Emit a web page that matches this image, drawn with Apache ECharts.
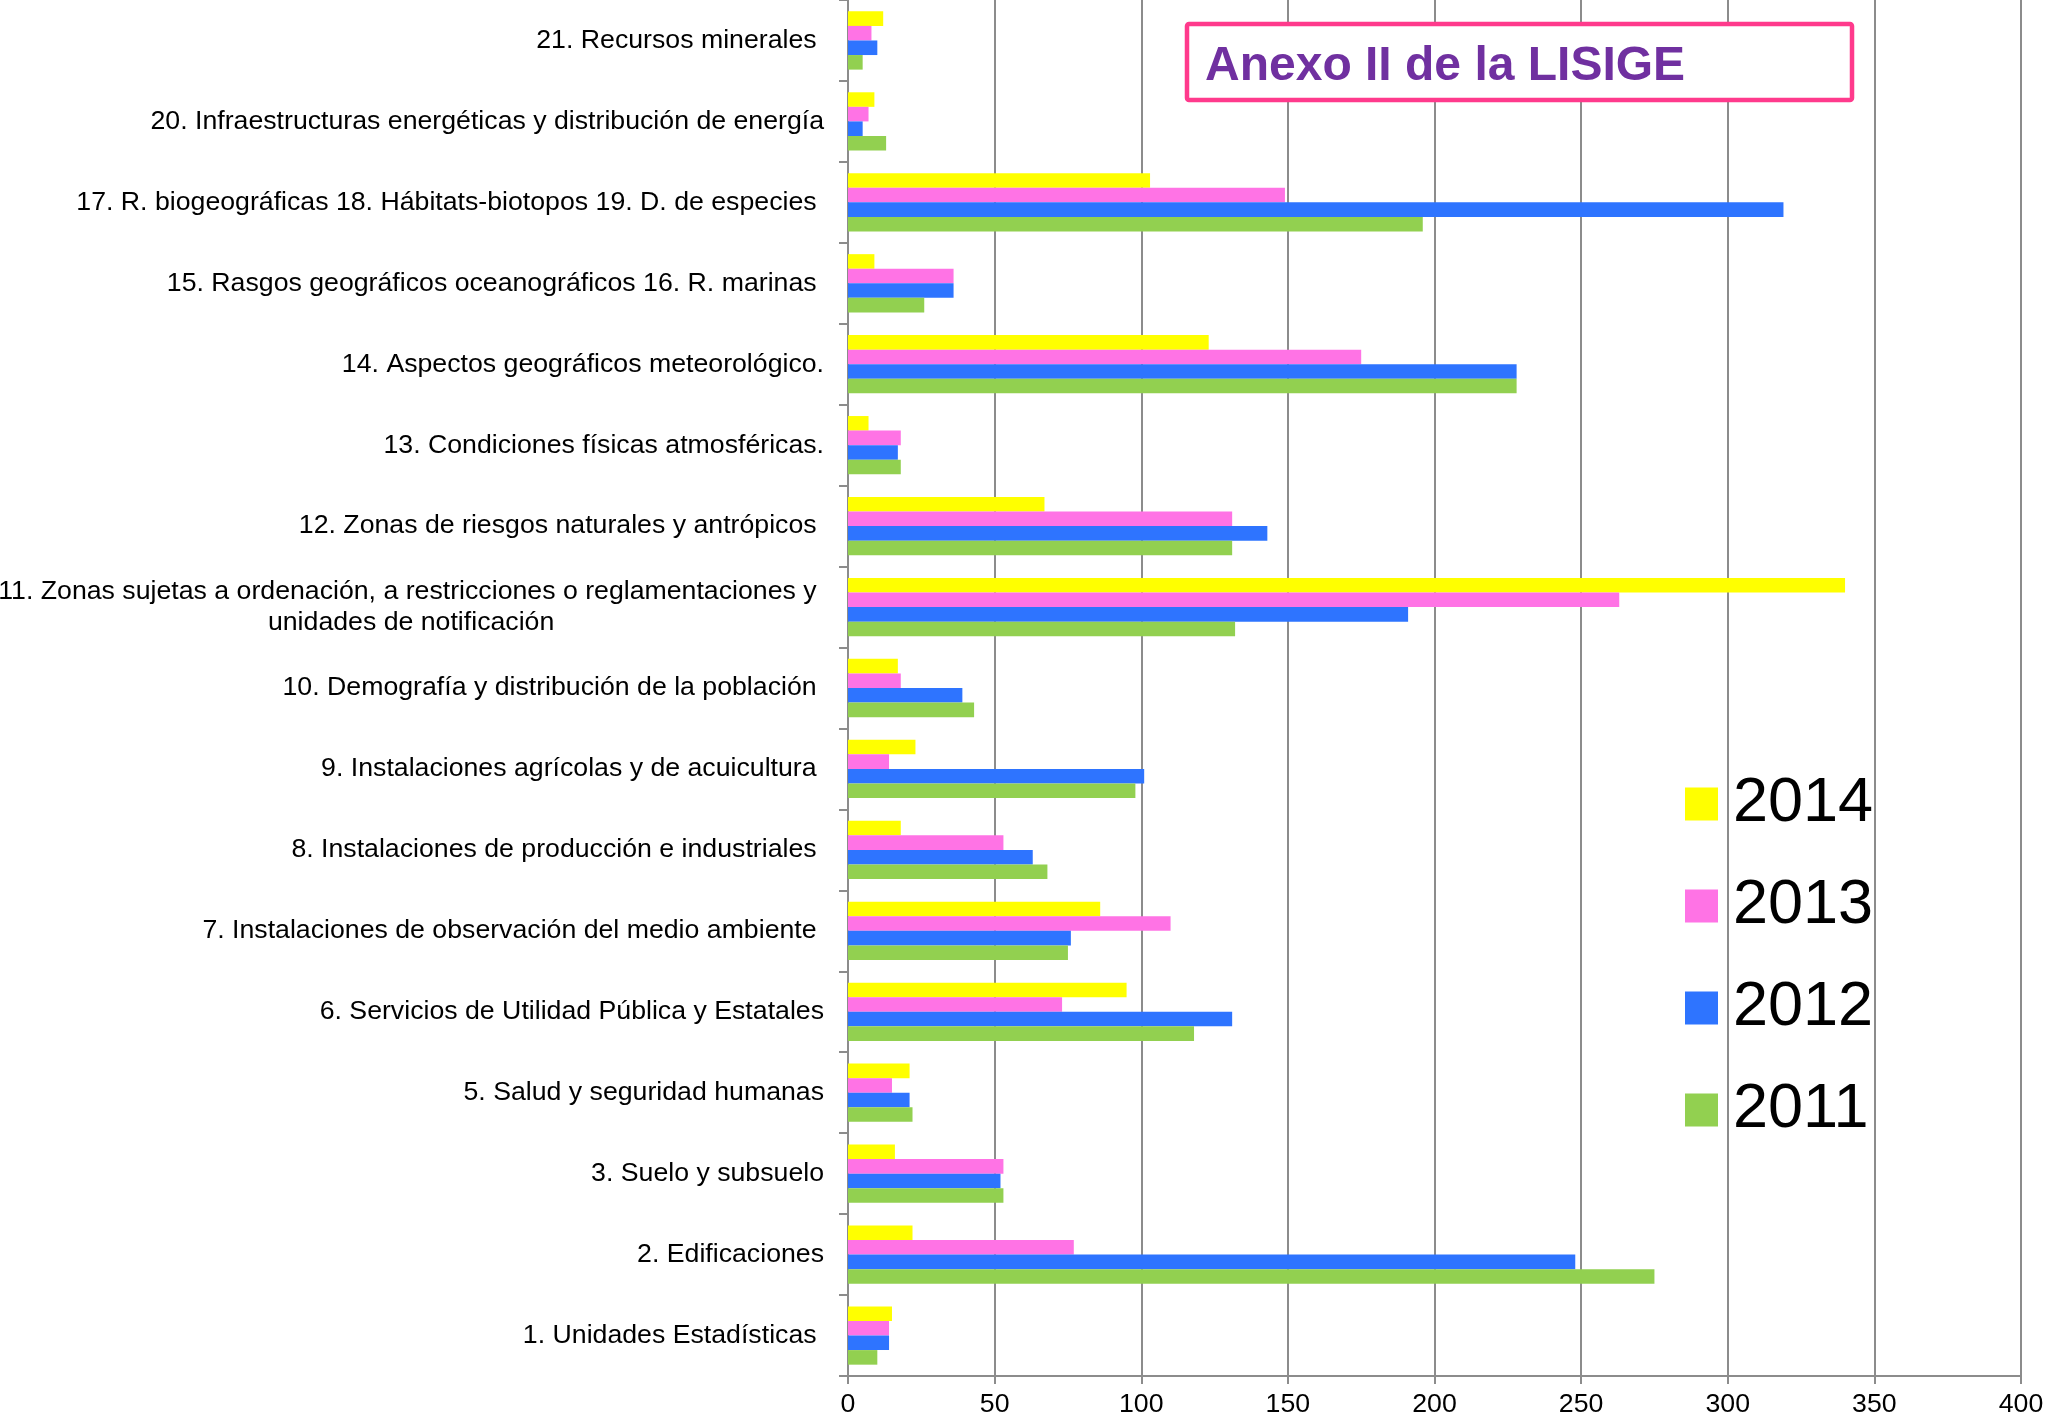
<!DOCTYPE html>
<html>
<head>
<meta charset="utf-8">
<script src="https://cdn.jsdelivr.net/npm/echarts@6/dist/echarts.min.js"></script>
<style>
html,body{margin:0;padding:0;background:#fff;}
#chart{width:2050px;height:1425px;}
</style>
</head>
<body>
<div id="chart"></div>
<script>
// Categories from bottom to top (ECharts puts first category at the bottom)
const categories = [
  '1. Unidades Estadísticas ',
  '2. Edificaciones',
  '3. Suelo y subsuelo',
  '5. Salud y seguridad humanas',
  '6. Servicios de Utilidad Pública y Estatales',
  '7. Instalaciones de observación del medio ambiente ',
  '8. Instalaciones de producción e industriales ',
  '9. Instalaciones agrícolas y de acuicultura ',
  '10. Demografía y distribución de la población ',
  '11. Zonas sujetas a ordenación, a restricciones o reglamentaciones y \nunidades de notificación',
  '12. Zonas de riesgos naturales y antrópicos ',
  '13. Condiciones físicas atmosféricas.',
  '14. Aspectos geográficos meteorológico.',
  '15. Rasgos geográficos oceanográficos 16. R. marinas ',
  '17. R. biogeográficas 18. Hábitats-biotopos 19. D. de especies ',
  '20. Infraestructuras energéticas y distribución de energía',
  '21. Recursos minerales '
];
const seriesNames = ['2014', '2013', '2012', '2011'];
const values2014 = [15, 22, 16, 21, 95, 86, 18, 23, 17, 340, 67, 7, 123, 9, 103, 9, 12];
const values2013 = [14, 77, 53, 15, 73, 110, 53, 14, 18, 263, 131, 18, 175, 36, 149, 7, 8];
const values2012 = [14, 248, 52, 21, 131, 76, 63, 101, 39, 191, 143, 17, 228, 36, 319, 5, 10];
const values2011 = [10, 275, 53, 22, 118, 75, 68, 98, 43, 132, 131, 18, 228, 26, 196, 13, 5];
const seriesColors = ['#FFFF00', '#FF73E5', '#2E74FF', '#92D050'];
const xTicks = {min: 0, max: 400, interval: 50};
const titleText = 'Anexo II de la LISIGE';

const FONT = '"Liberation Sans", Arial, Helvetica, sans-serif';
const allValues = [values2014, values2013, values2012, values2011];

const chart = echarts.init(document.getElementById('chart'), null, {renderer: 'canvas'});
const option = {
  backgroundColor: '#ffffff',
  animation: false,
  grid: {left: 848, right: 29, top: 0, bottom: 49, containLabel: false, outerBoundsMode: 'none'},
  legend: {
    orient: 'vertical',
    left: 1685,
    top: 769,
    padding: 0,
    itemWidth: 33,
    itemHeight: 33,
    itemGap: 32,
    icon: 'rect',
    data: seriesNames,
    textStyle: {fontFamily: FONT, fontSize: 63, color: '#000', lineHeight: 70, padding: [0, 0, 0, 10]}
  },
  xAxis: {
    type: 'value',
    min: xTicks.min,
    max: xTicks.max,
    interval: xTicks.interval,
    axisLine: {show: true, lineStyle: {color: '#8c8c8c', width: 2}},
    axisTick: {show: true, length: 8, lineStyle: {color: '#8c8c8c', width: 2}},
    splitLine: {show: true, lineStyle: {color: '#8c8c8c', width: 2}},
    axisLabel: {fontFamily: FONT, fontSize: 26.7, color: '#000', margin: 15}
  },
  yAxis: {
    type: 'category',
    data: categories,
    axisLine: {show: true, lineStyle: {color: '#8c8c8c', width: 2}},
    axisTick: {show: true, length: 9, lineStyle: {color: '#8c8c8c', width: 2}},
    splitLine: {show: false},
    axisLabel: {
      fontFamily: FONT, fontSize: 26.7, color: '#000', margin: 24, lineHeight: 31,
      interval: 0,
      formatter: function (v) {
        if (v.indexOf('\n') >= 0) {
          return v.split('\n').map(function (l) { return '{c|' + l + '}'; }).join('\n');
        }
        return v;
      },
      rich: {c: {align: 'center', fontFamily: FONT, fontSize: 26.7, color: '#000', lineHeight: 31}}
    }
  },
  series: seriesNames.map(function (name, i) {
    return {
      name: name,
      type: 'bar',
      data: allValues[i],
      barGap: '0%',
      barCategoryGap: '28%',
      itemStyle: {color: seriesColors[i]}
    };
  }),
  graphic: [
    {
      type: 'rect',
      z: 100,
      shape: {x: 1187, y: 24, width: 665, height: 76, r: 2},
      style: {fill: '#ffffff', stroke: '#FF3A8C', lineWidth: 4.5}
    },
    {
      type: 'text',
      z: 101,
      x: 1205,
      y: 67,
      style: {text: titleText, font: 'bold 48px ' + FONT, fill: '#7030A0', verticalAlign: 'middle', align: 'left'}
    }
  ]
};
chart.setOption(option);
</script>
</body>
</html>
